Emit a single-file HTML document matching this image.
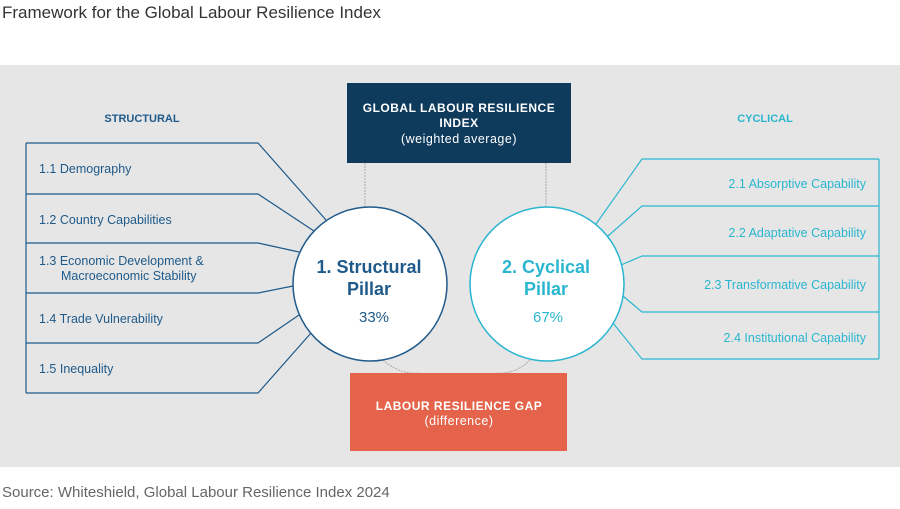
<!DOCTYPE html>
<html><head><meta charset="utf-8"><style>
body{margin:0;width:900px;height:504px;background:#fff;font-family:"Liberation Sans",sans-serif;overflow:hidden}
</style></head><body>
<svg width="900" height="504" font-family="Liberation Sans, sans-serif">
<text x="2" y="18" font-size="17" fill="#333">Framework for the Global Labour Resilience Index</text>
<rect x="0" y="65" width="900" height="402" fill="#e6e6e6"/>
<g stroke="#aaa" stroke-width="1" fill="none" stroke-dasharray="2,1">
<line x1="365" y1="163" x2="365" y2="208"/><line x1="546" y1="163" x2="546" y2="208"/>
<path d="M383 360 Q400 375 420 373"/><path d="M530 360 Q515 375 495 373"/>
</g>
<rect x="347" y="83" width="224" height="80" fill="#0e3a5c"/>
<text x="459" y="112" text-anchor="middle" fill="#fff" font-size="12" font-weight="bold" letter-spacing="0.5">GLOBAL LABOUR RESILIENCE</text>
<text x="459" y="127" text-anchor="middle" fill="#fff" font-size="12" font-weight="bold" letter-spacing="0.5">INDEX</text>
<text x="459" y="143" text-anchor="middle" fill="#fff" font-size="12.5" letter-spacing="0.5">(weighted average)</text>
<rect x="350" y="373" width="217" height="78" fill="#e4634a"/>
<text x="459" y="410" text-anchor="middle" fill="#fff" font-size="12" font-weight="bold" letter-spacing="0.5">LABOUR RESILIENCE GAP</text>
<text x="459" y="425" text-anchor="middle" fill="#fff" font-size="12.5" letter-spacing="0.5">(difference)</text>
<text x="142" y="122" text-anchor="middle" fill="#1f5a8a" font-size="11" font-weight="bold">STRUCTURAL</text>
<text x="765" y="122" text-anchor="middle" fill="#2bb6cf" font-size="11" font-weight="bold">CYCLICAL</text>
<g stroke="#1f5a8a" stroke-width="1.2" fill="none">
<polyline points="26,143 26,393"/>
<polyline points="26,143 258,143 326,220"/>
<polyline points="26,194 258,194 314,231"/>
<polyline points="26,243 258,243 299,252"/>
<polyline points="26,293 258,293 293,286"/>
<polyline points="26,343 258,343 299,315"/>
<polyline points="26,393 258,393 311,333"/>
</g>
<g fill="#1f5a8a" font-size="12.5">
<text x="39" y="173">1.1 Demography</text>
<text x="39" y="224">1.2 Country Capabilities</text>
<text x="39" y="265">1.3 Economic Development &amp;</text>
<text x="61" y="280">Macroeconomic Stability</text>
<text x="39" y="323">1.4 Trade Vulnerability</text>
<text x="39" y="373">1.5 Inequality</text>
</g>
<g stroke="#2bb6cf" stroke-width="1.2" fill="none">
<polyline points="879,159 879,359"/>
<polyline points="879,159 642,159 596,224"/>
<polyline points="879,206 642,206 608,236"/>
<polyline points="879,256 642,256 621,265"/>
<polyline points="879,312 642,312 623,296"/>
<polyline points="879,359 642,359 613,323"/>
</g>
<g fill="#2bb6cf" font-size="12.5" text-anchor="end">
<text x="866" y="188">2.1 Absorptive Capability</text>
<text x="866" y="237">2.2 Adaptative Capability</text>
<text x="866" y="289">2.3 Transformative Capability</text>
<text x="866" y="342">2.4 Institutional Capability</text>
</g>
<circle cx="370" cy="284" r="77" fill="#fff" stroke="#1f5a8a" stroke-width="1.5"/>
<text x="369" y="273" text-anchor="middle" fill="#1f5a8a" font-size="18" font-weight="bold">1. Structural</text>
<text x="369" y="295" text-anchor="middle" fill="#1f5a8a" font-size="18" font-weight="bold">Pillar</text>
<text x="374" y="322" text-anchor="middle" fill="#1f5a8a" font-size="15">33%</text>
<circle cx="547" cy="284" r="77" fill="#fff" stroke="#2bb6cf" stroke-width="1.5"/>
<text x="546" y="273" text-anchor="middle" fill="#2bb6cf" font-size="18" font-weight="bold">2. Cyclical</text>
<text x="546" y="295" text-anchor="middle" fill="#2bb6cf" font-size="18" font-weight="bold">Pillar</text>
<text x="548" y="322" text-anchor="middle" fill="#2bb6cf" font-size="15">67%</text>
<text x="2" y="497" font-size="15" fill="#666">Source: Whiteshield, Global Labour Resilience Index 2024</text>
</svg>
</body></html>
